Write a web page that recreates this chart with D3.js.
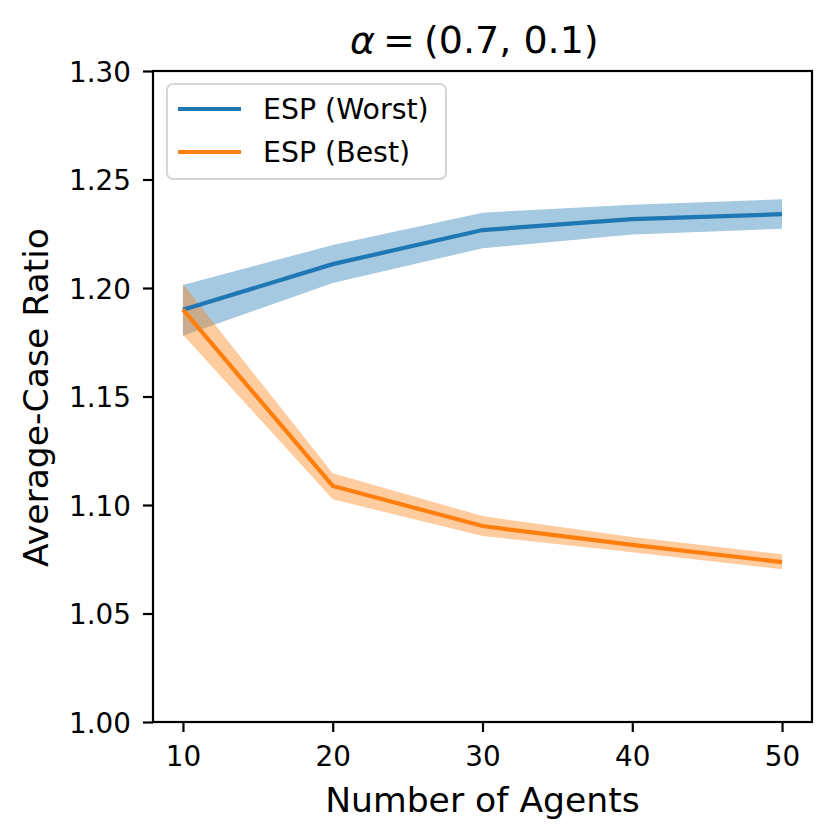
<!DOCTYPE html>
<html>
<head>
<meta charset="utf-8">
<script src="https://cdn.jsdelivr.net/npm/d3@7"></script>
<style>
  body { margin: 0; background: #fff; }
  text { font-family: "DejaVu Sans", sans-serif; fill: #000; }
</style>
</head>
<body>
<svg id="chart" width="832" height="840"></svg>
<script>
const agents = [10, 20, 30, 40, 50];
const worstMean = [1.190, 1.211, 1.2267, 1.2317, 1.234];
const worstLow  = [1.178, 1.2023, 1.2183, 1.2247, 1.2273];
const worstHigh = [1.2014, 1.2198, 1.2347, 1.2384, 1.2409];
const bestMean  = [1.190, 1.1088, 1.0903, 1.0816, 1.0737];
const bestLow   = [1.1785, 1.1026, 1.0857, 1.0782, 1.0704];
const bestHigh  = [1.2018, 1.1146, 1.0949, 1.0852, 1.0773];
const yTicks = [1.00, 1.05, 1.10, 1.15, 1.20, 1.25, 1.30];
const xTicks = [10, 20, 30, 40, 50];

const margin = { top: 71, right: 20, bottom: 118, left: 153 };
const width = 832 - margin.left - margin.right;
const height = 840 - margin.top - margin.bottom;

const svg = d3.select("#chart");
const g = svg.append("g").attr("transform", `translate(${margin.left},${margin.top})`);

const x = d3.scaleLinear().domain([8, 52]).range([0, width]);
const y = d3.scaleLinear().domain([1.0, 1.3]).range([height, 0]);

const series = [
    { name: "ESP (Worst)", color: "#1f77b4", mean: worstMean, low: worstLow, high: worstHigh },
    { name: "ESP (Best)", color: "#ff7f0e", mean: bestMean, low: bestLow, high: bestHigh }
];

const area = d3.area()
    .x(d => x(d.n))
    .y0(d => y(d.lo))
    .y1(d => y(d.hi));

const line = d3.line()
    .x(d => x(d.n))
    .y(d => y(d.v));

// bands first, then lines (like fill_between then plot)
series.forEach(s => {
    g.append("path")
        .datum(agents.map((n, i) => ({ n, lo: s.low[i], hi: s.high[i] })))
        .attr("d", area)
        .attr("fill", s.color)
        .attr("fill-opacity", 0.4);
});
series.forEach(s => {
    g.append("path")
        .datum(agents.map((n, i) => ({ n, v: s.mean[i] })))
        .attr("d", line)
        .attr("fill", "none")
        .attr("stroke", s.color)
        .attr("stroke-width", 4.2);
});

// Axes
const xAxis = g.append("g")
    .attr("transform", `translate(0,${height})`)
    .call(d3.axisBottom(x).tickValues(xTicks).tickSize(10));
xAxis.selectAll(".tick text").attr("y", 44).attr("dy", 0);

const yAxis = g.append("g")
    .call(d3.axisLeft(y).tickValues(yTicks).tickFormat(d3.format(".2f")).tickSize(10));
yAxis.selectAll(".tick text").attr("x", -22).attr("dy", "0.36em");

[xAxis, yAxis].forEach(a => {
    a.select(".domain").remove();
    a.selectAll(".tick line").attr("stroke", "#000").attr("stroke-width", 2.2);
    a.selectAll(".tick text")
        .style("font-size", "27.8px")
        .style("font-family", "'DejaVu Sans', sans-serif")
        .attr("fill", "#000");
});

// spines
g.append("rect")
    .attr("width", width).attr("height", height)
    .attr("fill", "none").attr("stroke", "#000").attr("stroke-width", 2.2);

// Labels
g.append("text")
    .attr("x", width / 2).attr("y", height + 90)
    .attr("text-anchor", "middle")
    .style("font-size", "34.6px")
    .text("Number of Agents");

g.append("text")
    .attr("transform", `translate(-105,${height / 2 + 1}) rotate(-90)`)
    .attr("text-anchor", "middle")
    .style("font-size", "34.6px")
    .text("Average-Case Ratio");

// title, laid out like matplotlib mathtext
const title = svg.append("text")
    .attr("y", 53)
    .style("font-size", "38px");
title.append("tspan").attr("x", 350).style("font-style", "italic").text("α");
title.append("tspan").attr("x", 383).text("=");
title.append("tspan").attr("x", 424).text("(0.7, 0.1)");

// Legend
const legend = g.append("g").attr("transform", "translate(14,13)");
legend.append("rect")
    .attr("width", 279).attr("height", 95)
    .attr("rx", 6)
    .attr("fill", "#fff").attr("fill-opacity", 0.8)
    .attr("stroke", "#d6d6d6").attr("stroke-width", 2);
series.forEach((s, i) => {
    const ly = 25 + i * 43;
    legend.append("line")
        .attr("x1", 11).attr("x2", 74)
        .attr("y1", ly).attr("y2", ly)
        .attr("stroke", s.color).attr("stroke-width", 4.2);
    legend.append("text")
        .attr("x", 96).attr("y", ly + 10)
        .style("font-size", "28.4px")
        .text(s.name);
});
</script>
</body>
</html>
